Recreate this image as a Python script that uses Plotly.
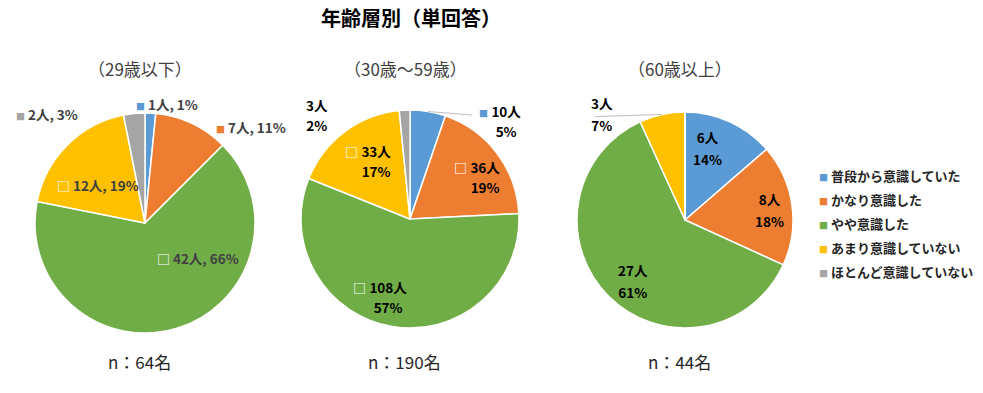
import math
import plotly.graph_objects as go

# ---------------- data ----------------
title_text = "年齢層別（単回答）"
categories = ["普段から意識していた", "かなり意識した", "やや意識した",
              "あまり意識していない", "ほとんど意識していない"]
group_titles = ["（29歳以下）", "（30歳～59歳）", "（60歳以上）"]
counts_u29 = [1, 7, 42, 12, 2]
counts_30_59 = [10, 36, 108, 33, 3]
counts_60 = [6, 8, 27, 3, 0]
pct_u29 = [1, 11, 66, 19, 3]
pct_30_59 = [5, 19, 57, 17, 2]
pct_60 = [14, 18, 61, 7, 0]
n_labels = ["n：64名", "n：190名", "n：44名"]

# ---------------- style ----------------
W, H = 983, 393
OFF = 0  # body margin removed via post_script
colors = ["#5B9BD5", "#ED7D31", "#70AD47", "#FFC000", "#A5A5A5"]
FONT = "Noto Sans CJK JP"
LBL = 13.5

pies = [
    dict(counts=counts_u29, pct=pct_u29, cx=145, cy=223, r=110, sep=", ",
         txtcol="#404040",
         # (radius factor, angle offset deg, marker)
         lab=[(1.10, 7.7, "solid"), (1.30, 22.7, "solid"), (0.58, -40, "hollow"),
              (0.55, -6, "hollow"), (1.33, -36.5, "solid")],
         lines=[]),
    dict(counts=counts_30_59, pct=pct_30_59, cx=410, cy=219, r=109, sep="<br>",
         txtcol="#000000",
         lab=[(1.22, 33, "solid"), (0.73, 4.3, "hollow"), (0.76, 11.8, "hollow"),
              (0.66, 1.1, "hollow"), (1.28, -39, None)],
         lines=[(0, 1.11, 21.3)]),
    dict(counts=counts_60, pct=pct_60, cx=685, cy=220, r=108, sep="<br>",
         txtcol="#000000",
         lab=[(0.70, -7.5, None), (0.79, 1.5, None), (0.74, -4.6, None),
              (1.25, -25.7, None), None],
         lines=[(3, 1.27, -28.8)]),
]


def px2paper(x, y):
    return (x - OFF) / W, 1 - (y - OFF) / H


fig = go.Figure()
annotations = []
shapes = []

for i, p in enumerate(pies):
    cx, cy, r = p["cx"], p["cy"], p["r"]
    x0d, y1d = px2paper(cx - r, cy - r)
    x1d, y0d = px2paper(cx + r, cy + r)
    fig.add_trace(go.Pie(
        labels=categories, values=p["counts"],
        marker=dict(colors=colors, line=dict(color="white", width=1.5)),
        sort=False, direction="clockwise", rotation=0, textinfo="none",
        hoverinfo="label+value+percent", showlegend=False,
        domain=dict(x=[x0d, x1d], y=[y0d, y1d]),
    ))
    total = sum(p["counts"])
    cum = 0
    mids = []
    for v in p["counts"]:
        mids.append((cum + v / 2) / total * 360)
        cum += v
    for j, v in enumerate(p["counts"]):
        spec = p["lab"][j]
        if v == 0 or spec is None:
            continue
        k, dth, mk = spec
        th = math.radians(mids[j] + dth)
        x = cx + k * r * math.sin(th)
        y = cy - k * r * math.cos(th)
        if mk == "solid":
            pre = f'<span style="color:{colors[j]};font-size:9px">■</span> '
        elif mk == "hollow":
            pre = '<span style="color:#FFFFFF;font-size:13px"><b>□</b></span> '
        else:
            pre = ""
        pad = pre.replace(colors[j], "rgba(0,0,0,0)").replace("#FFFFFF", "rgba(0,0,0,0)")
        if p["sep"] == "<br>":
            txt = (f'{pre}<span style="font-size:{LBL}px"><b>{v}人</b></span><br>'
                   f'{pad}<span style="font-size:{LBL}px"><b>{p["pct"][j]}%</b></span>')
            fsize = 17 if i == 2 else 15
        else:
            txt = f'{pre}<span style="font-size:{LBL}px"><b>{v}人, {p["pct"][j]}%</b></span>'
            fsize = 13
        ax, ay = px2paper(x, y)
        annotations.append(dict(x=ax, y=ay, xref="paper", yref="paper", text=txt, showarrow=False,
                                xanchor="center", yanchor="middle", align="center",
                                font=dict(family=FONT, size=fsize, color=p["txtcol"])))
    for (j, k, dth) in p["lines"]:
        th0 = math.radians(mids[j])
        th1 = math.radians(mids[j] + dth)
        lx0, ly0 = px2paper(cx + r * math.sin(th0), cy - r * math.cos(th0))
        lx1, ly1 = px2paper(cx + k * r * math.sin(th1), cy - k * r * math.cos(th1))
        shapes.append(dict(type="line", xref="paper", yref="paper", x0=lx0, y0=ly0, x1=lx1, y1=ly1,
                           line=dict(color="#BFBFBF", width=1)))
    # group subtitle and n label
    sx, sy = px2paper(cx - 5, 68)
    annotations.append(dict(x=sx, y=sy, xref="paper", yref="paper", text=group_titles[i], showarrow=False,
                            xanchor="center", yanchor="middle",
                            font=dict(family=FONT, size=17, color="#404040")))
    nx, ny = px2paper(cx - 6, 361)
    annotations.append(dict(x=nx, y=ny, xref="paper", yref="paper", text=n_labels[i], showarrow=False,
                            xanchor="center", yanchor="middle",
                            font=dict(family=FONT, size=17, color="#262626")))

# legend as annotations
for j, cat in enumerate(categories):
    lx, ly = px2paper(817, 175 + 24 * j)
    annotations.append(dict(x=lx, y=ly, xref="paper", yref="paper", showarrow=False,
                            xanchor="left", yanchor="middle",
                            text=f'<span style="color:{colors[j]};font-size:9px">■</span> <b>{cat}</b>',
                            font=dict(family=FONT, size=13, color="#262626")))

tx, ty = px2paper(411, 18)
annotations.append(dict(x=tx, y=ty, xref="paper", yref="paper", text=f"<b>{title_text}</b>", showarrow=False,
                        xanchor="center", yanchor="middle", font=dict(family=FONT, size=20, color="#000000")))

fig.update_layout(width=W, height=H, margin=dict(l=0, r=0, t=0, b=0),
                  paper_bgcolor="white", plot_bgcolor="white",
                  annotations=annotations, shapes=shapes, showlegend=False)
fig.write_html("out.html", config={"displayModeBar": False},
               post_script="document.body.style.margin='0';document.body.style.overflow='hidden';")
